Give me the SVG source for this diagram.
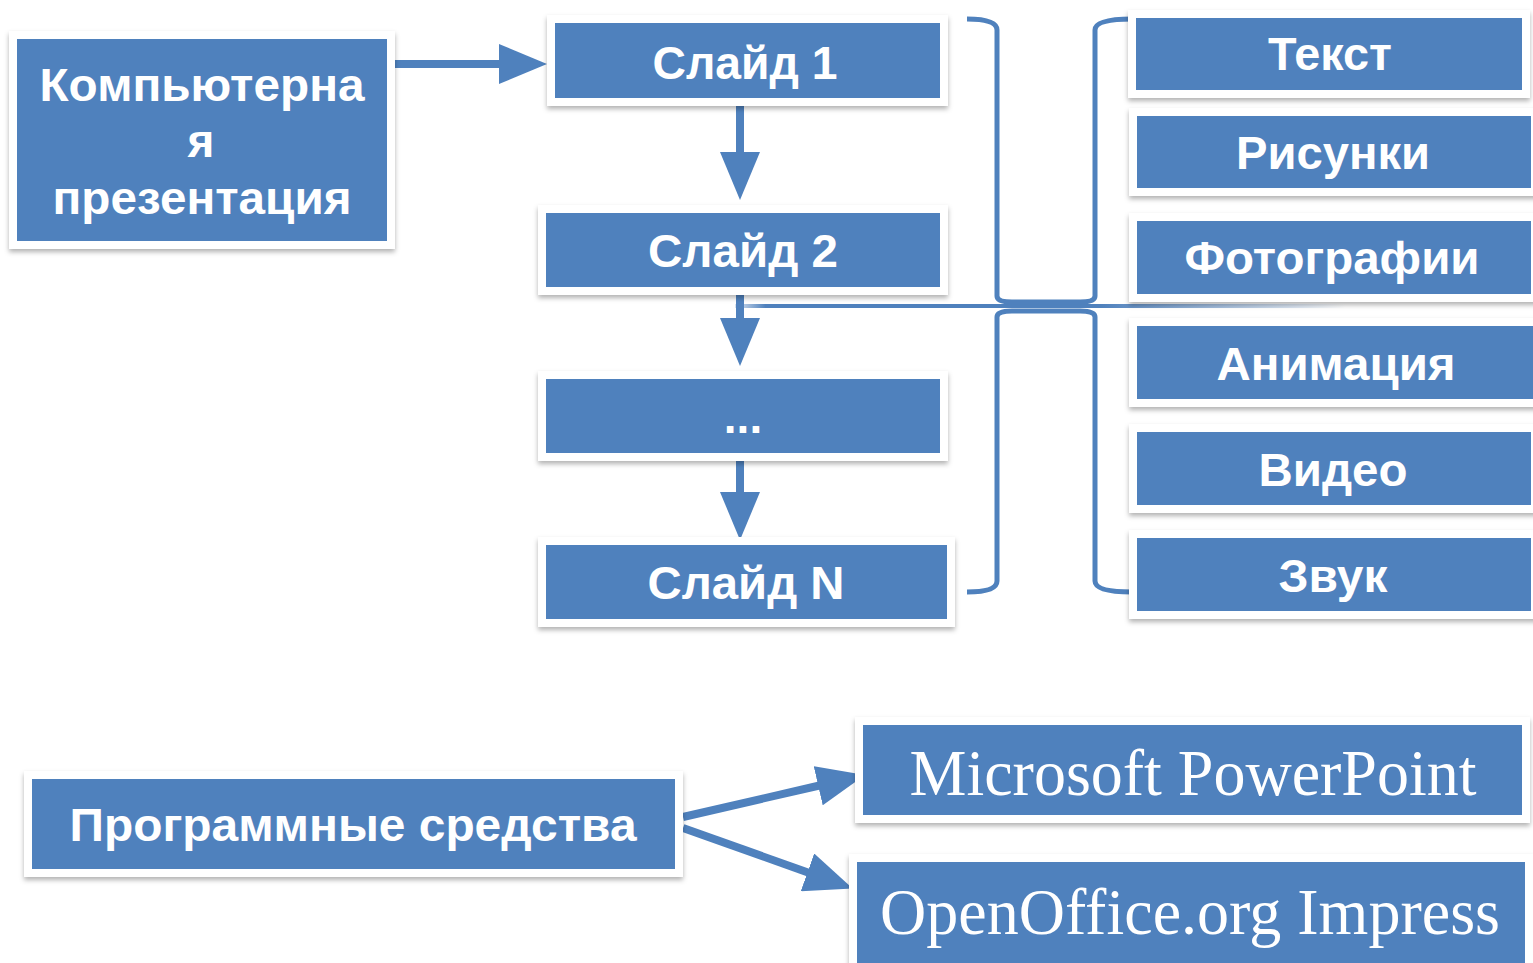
<svg xmlns="http://www.w3.org/2000/svg" width="1533" height="963" viewBox="0 0 1533 963">
<style>
.box{fill:#4f81bd;stroke:#ffffff;stroke-width:8;filter:url(#sh)}
.t{font-family:"Liberation Sans",Arial,sans-serif;font-weight:bold;font-size:46px;fill:#ffffff;text-anchor:middle}
.s{font-family:"Liberation Serif","Times New Roman",serif;font-size:66px;fill:#ffffff;text-anchor:middle}
.arr{stroke:#4f81bd;stroke-width:8;fill:none;marker-end:url(#ah)}
.br{stroke:#4f81bd;stroke-width:5;fill:none}
</style>
<defs>
<filter id="sh" x="-5%" y="-10%" width="110%" height="130%">
<feDropShadow dx="0" dy="3" stdDeviation="2.5" flood-color="#000" flood-opacity="0.3"/>
</filter>
<marker id="ah" viewBox="0 0 6 5" refX="1" refY="2.5" markerWidth="6" markerHeight="5" orient="auto" markerUnits="strokeWidth">
<path d="M0,0 L6,2.5 L0,5 Z" fill="#4f81bd"/>
</marker>
<linearGradient id="hl" x1="735" y1="0" x2="1345" y2="0" gradientUnits="userSpaceOnUse">
<stop offset="0" stop-color="#4f81bd" stop-opacity="0.2"/>
<stop offset="0.05" stop-color="#4f81bd" stop-opacity="1"/>
<stop offset="0.6" stop-color="#4f81bd" stop-opacity="1"/>
<stop offset="1" stop-color="#4f81bd" stop-opacity="0"/>
</linearGradient>
</defs>
<rect width="1533" height="963" fill="#ffffff"/>

<g id="connectors">
<line class="arr" x1="393" y1="64" x2="507" y2="64"/>
<line class="arr" x1="740" y1="106" x2="740" y2="160"/>
<line class="arr" x1="740" y1="295" x2="740" y2="326"/>
<line class="arr" x1="740" y1="461" x2="740" y2="500"/>
<line class="arr" x1="683" y1="817" x2="826" y2="784"/>
<line class="arr" x1="683" y1="828" x2="815" y2="875"/>
<line x1="735" y1="306" x2="1345" y2="306" stroke="url(#hl)" stroke-width="4"/>
<path class="br" d="M967,19 Q997,19 997,30 L997,296 Q997,302 1012,302 L1080,302 Q1095,302 1095,296 L1095,30 Q1095,19 1132,19"/>
<path class="br" d="M967,592 Q997,592 997,581 L997,317 Q997,311 1012,311 L1080,311 Q1095,311 1095,317 L1095,581 Q1095,592 1132,592"/>
</g>

<g id="n-pres">
<rect class="box" x="13" y="35" width="378" height="210"/>
<text class="t" x="202" y="101" textLength="325" lengthAdjust="spacingAndGlyphs">Компьютерна</text>
<text class="t" x="201" y="157">я</text>
<text class="t" x="202" y="214" textLength="299" lengthAdjust="spacingAndGlyphs">презентация</text>
</g>
<g id="n-s1">
<rect class="box" x="551" y="19" width="393" height="83"/>
<text class="t" x="745" y="79" textLength="185" lengthAdjust="spacingAndGlyphs">Слайд 1</text>
</g>
<g id="n-s2">
<rect class="box" x="542" y="209" width="402" height="82"/>
<text class="t" x="743" y="267" textLength="190" lengthAdjust="spacingAndGlyphs">Слайд 2</text>
</g>
<g id="n-dots">
<rect class="box" x="542" y="375" width="402" height="82"/>
<text class="t" x="743" y="433">...</text>
</g>
<g id="n-sn">
<rect class="box" x="542" y="541" width="409" height="82"/>
<text class="t" x="746" y="599" textLength="197" lengthAdjust="spacingAndGlyphs">Слайд N</text>
</g>

<g id="n-text">
<rect class="box" x="1132" y="14" width="394" height="80"/>
<text class="t" x="1330" y="70" textLength="124" lengthAdjust="spacingAndGlyphs">Текст</text>
</g>
<g id="n-pics">
<rect class="box" x="1133" y="112" width="402" height="80"/>
<text class="t" x="1333" y="169" textLength="194" lengthAdjust="spacingAndGlyphs">Рисунки</text>
</g>
<g id="n-photo">
<rect class="box" x="1133" y="217" width="402" height="81"/>
<text class="t" x="1332" y="274" textLength="295" lengthAdjust="spacingAndGlyphs">Фотографии</text>
</g>
<g id="n-anim">
<rect class="box" x="1133" y="322" width="404" height="81"/>
<text class="t" x="1336" y="380" textLength="239" lengthAdjust="spacingAndGlyphs">Анимация</text>
</g>
<g id="n-video">
<rect class="box" x="1133" y="428" width="402" height="81"/>
<text class="t" x="1333" y="486" textLength="149" lengthAdjust="spacingAndGlyphs">Видео</text>
</g>
<g id="n-sound">
<rect class="box" x="1133" y="534" width="402" height="81"/>
<text class="t" x="1333" y="592" textLength="109" lengthAdjust="spacingAndGlyphs">Звук</text>
</g>

<g id="n-soft">
<rect class="box" x="28" y="775" width="651" height="98"/>
<text class="t" x="353" y="841" textLength="567" lengthAdjust="spacingAndGlyphs">Программные средства</text>
</g>
<g id="n-ppt">
<rect class="box" x="859" y="721" width="667" height="98"/>
<text class="s" x="1193" y="795" textLength="567" lengthAdjust="spacingAndGlyphs">Microsoft PowerPoint</text>
</g>
<g id="n-oo">
<rect class="box" x="853" y="858" width="676" height="112"/>
<text class="s" x="1190" y="934" textLength="620" lengthAdjust="spacingAndGlyphs">OpenOffice.org Impress</text>
</g>
</svg>
